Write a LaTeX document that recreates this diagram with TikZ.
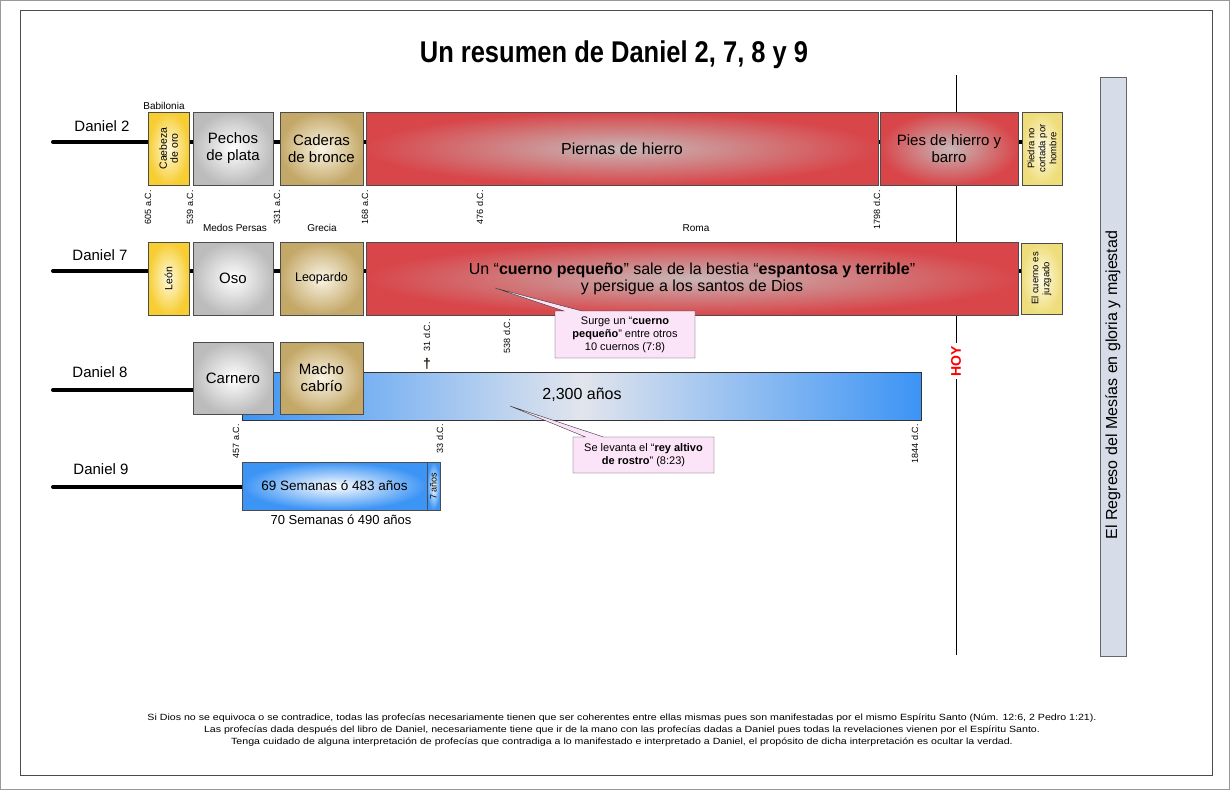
\documentclass[tikz,border=0pt]{standalone}
\usepackage{fontspec}
\setmainfont{Liberation Sans}
\usetikzlibrary{shapes.callouts,backgrounds}

\definecolor{oroOut}{RGB}{247,205,50}
\definecolor{oroIn}{RGB}{255,250,222}
\definecolor{plataOut}{RGB}{188,188,188}
\definecolor{bronceOut}{RGB}{196,168,104}
\definecolor{bronceIn}{RGB}{250,245,230}
\definecolor{hierroOut}{RGB}{216,70,74}
\definecolor{hierroIn}{RGB}{200,182,182}
\definecolor{piedraOut}{RGB}{238,221,122}
\definecolor{piedraIn}{RGB}{255,251,228}
\definecolor{azulOut}{RGB}{60,148,245}
\definecolor{grisClaro}{RGB}{226,229,237}
\definecolor{regresoFill}{RGB}{214,221,232}
\definecolor{notaFill}{RGB}{252,228,248}

\begin{document}
\begin{tikzpicture}[x=1pt,y=-1pt,
  every node/.style={inner sep=1pt},
  box/.style={draw=black!70,line width=0.9pt,inner sep=2pt,align=center,font=\fontsize{15}{17}\selectfont},
  oro/.style={box,inner color=oroIn,outer color=oroOut},
  plata/.style={box,inner color=white,outer color=plataOut},
  bronce/.style={box,inner color=bronceIn,outer color=bronceOut},
  hierro/.style={box,inner color=hierroIn,outer color=hierroOut},
  roca/.style={box,inner color=piedraIn,outer color=piedraOut},
  azul/.style={box,inner color=white,outer color=azulOut},
  rowlabel/.style={font=\fontsize{15}{17}\selectfont},
  reino/.style={font=\fontsize{10}{11}\selectfont},
  fecha/.style={rotate=90,anchor=east,font=\fontsize{9}{10}\selectfont},
  linea/.style={line width=4pt,line cap=round},
  nota/.style={rectangle callout,draw=black!80,fill=notaFill,align=center,
    font=\fontsize{11}{13}\selectfont,callout pointer width=18pt}
]
  \useasboundingbox (0,0) rectangle (1230,790);
  \draw[black!40] (0.5,0.5) rectangle (1229.5,789.5);
  \draw[black!70] (20,10) rectangle (1212,775);

  \node[font=\fontsize{30}{32}\selectfont\bfseries,xscale=0.85] (titulo) at (614,55) {Un resumen de Daniel 2, 7, 8 y 9};

  % Daniel 2
  \node[rowlabel] (dan2) at (102,126) {Daniel 2};
  \coordinate (start2) at (53,142);
  \node[oro,rotate=90,minimum width=73,minimum height=41,font=\fontsize{10.5}{11}\selectfont] (cabeza) at (168.5,148.5) {Caebeza\\de oro};
  \node[plata,minimum width=80,minimum height=73] (pechos) at (233,148.5) {Pechos\\de plata};
  \node[bronce,minimum width=83,minimum height=73] (caderas) at (321.5,148.5) {Caderas\\de bronce};
  \node[hierro,minimum width=512,minimum height=73,font=\fontsize{16}{18}\selectfont] (piernas) at (622,148.5) {Piernas de hierro};
  \node[hierro,minimum width=138,minimum height=73] (pies) at (949,148.5) {Pies de hierro y\\barro};
  \node[roca,rotate=90,minimum width=73,minimum height=40,inner sep=1pt,font=\fontsize{9.5}{11}\selectfont] (piedra) at (1042,148.5) {Piedra no\\cortada por\\hombre};
  \node[reino] (babilonia) at (164,106) {Babilonia};
  \node[fecha] (f605) at (148,189) {605 a.C.};
  \node[fecha] (f539) at (190,189) {539 a.C.};
  \node[fecha] (f331) at (277,189) {331 a.C.};
  \node[fecha] (f168) at (365,189) {168 a.C.};
  \node[fecha] (f476) at (480,189) {476 d.C.};
  \node[fecha] (f1798) at (877,189) {1798 d.C.};
  \node[reino] (medos) at (235,228) {Medos Persas};
  \node[reino] (grecia) at (322,228) {Grecia};
  \node[reino] (roma) at (696,228) {Roma};

  % Daniel 7
  \node[rowlabel] (dan7) at (100,255) {Daniel 7};
  \coordinate (start7) at (53,271);
  \node[oro,rotate=90,minimum width=73,minimum height=41,font=\fontsize{10.5}{11}\selectfont] (leon) at (168.5,278.5) {León};
  \node[plata,minimum width=80,minimum height=73] (oso) at (233,278.5) {Oso};
  \node[bronce,minimum width=83,minimum height=73,font=\fontsize{12.5}{14}\selectfont] (leopardo) at (321.5,278.5) {Leopardo};
  \node[hierro,minimum width=652,minimum height=73,font=\fontsize{16}{17}\selectfont] (bestia) at (692,278.5)
    {Un “\textbf{cuerno pequeño}” sale de la bestia “\textbf{espantosa y terrible}”\\y persigue a los santos de Dios};
  \node[roca,rotate=90,minimum width=71,minimum height=41,font=\fontsize{9.5}{11}\selectfont] (juzgado) at (1041.5,278.5) {El cuerno es\\juzgado};
  \coordinate (cuernoTip) at (495,288);
  \node[nota,callout absolute pointer={(cuernoTip)},minimum width=140,minimum height=47] (surge) at (625,334.5)
    {Surge un “\textbf{cuerno}\\\textbf{pequeño}” entre otros\\10 cuernos (7:8)};
  \node[fecha] (f31) at (427,321) {31 d.C.};
  \node[font=\bfseries\fontsize{14}{14}\selectfont,text=black!85!brown] (cruz) at (427,364) {†};
  \node[fecha] (f538) at (507,318) {538 d.C.};

  % Daniel 8
  \node[rowlabel] (dan8) at (100,372) {Daniel 8};
  \coordinate (start8) at (53,390);
  \node[draw=black!80,line width=0.9pt,left color=azulOut,right color=azulOut,middle color=grisClaro,
    minimum width=679,minimum height=48] (barra) at (581.5,396) {};
  \node[font=\fontsize{16}{18}\selectfont] (anios) at (582,395) {2,300 años};
  \node[plata,minimum width=80,minimum height=72] (carnero) at (233,378) {Carnero};
  \node[bronce,minimum width=83,minimum height=72] (macho) at (321.5,378) {Macho\\cabrío};
  \coordinate (reyTip) at (510,406);
  \node[nota,callout absolute pointer={(reyTip)},minimum width=141,minimum height=36] (rey) at (643.5,455)
    {Se levanta el “\textbf{rey altivo}\\\textbf{de rostro}” (8:23)};
  \node[fecha] (f457) at (236,423) {457 a.C.};
  \node[fecha] (f33) at (440,423) {33 d.C.};
  \node[fecha] (f1844) at (915,423) {1844 d.C.};

  % Daniel 9
  \node[rowlabel] (dan9) at (101,469) {Daniel 9};
  \coordinate (start9) at (53,487);
  \node[azul,minimum width=185,minimum height=48,font=\fontsize{13.5}{15}\selectfont] (sem69) at (334.5,486) {69 Semanas ó 483 años};
  \node[azul,rotate=90,minimum width=48,minimum height=13,inner sep=0pt,font=\fontsize{9}{9}\selectfont] (siete) at (433.5,486) {7 años};
  \node[font=\fontsize{13}{15}\selectfont] (setenta) at (341,520) {70 Semanas ó 490 años};

  % hoy y regreso
  \coordinate (hoyTop) at (956,75);
  \coordinate (hoyBot) at (956,655);
  \node[rotate=90,fill=white,text=red,inner sep=3pt,font=\bfseries\fontsize{14}{16}\selectfont] (hoy) at (956,361) {HOY};
  \node[draw=black!60,line width=0.9pt,fill=regresoFill,rotate=90,minimum width=579,minimum height=26] (regreso) at (1113,366.5) {};
  \node[rotate=90,font=\fontsize{16}{18}\selectfont] (regresoText) at (1113,385) {El Regreso del Mesías en gloria y majestad};

  \node[align=center,font=\fontsize{9}{12}\selectfont,xscale=1.18] (pie) at (622,730)
    {Si Dios no se equivoca o se contradice, todas las profecías necesariamente tienen que ser coherentes entre ellas mismas pues son manifestadas por el mismo Espíritu Santo (Núm. 12:6, 2 Pedro 1:21).\\
     Las profecías dada después del libro de Daniel, necesariamente tiene que ir de la mano con las profecías dadas a Daniel pues todas la revelaciones vienen por el Espíritu Santo.\\
     Tenga cuidado de alguna interpretación de profecías que contradiga a lo manifestado e interpretado a Daniel, el propósito de dicha interpretación es ocultar la verdad.};

  \begin{scope}[on background layer]
    \draw (hoyTop) -- (hoyBot);
    \draw[linea] (start2) -- (start2 -| piedra.center);
    \draw[linea] (start7) -- (start7 -| juzgado.center);
    \draw[linea] (start8) -- (start8 -| carnero.center);
    \draw[linea] (start9) -- (start9 -| sem69.center);
  \end{scope}
\end{tikzpicture}
\end{document}
